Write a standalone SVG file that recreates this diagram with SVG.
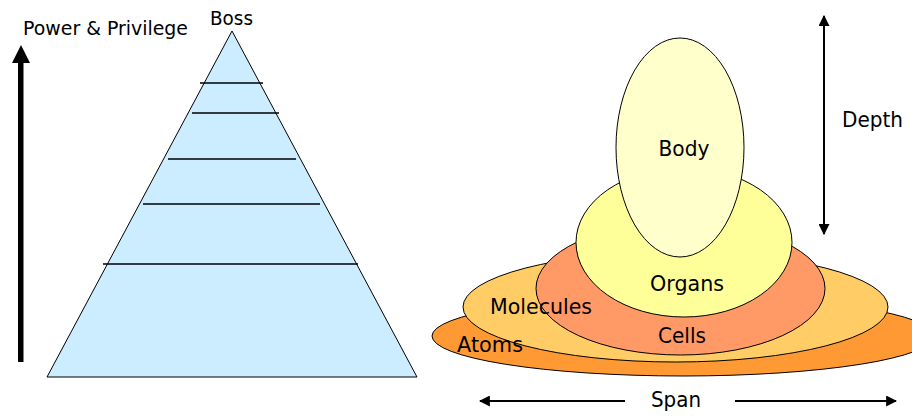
<svg xmlns="http://www.w3.org/2000/svg" width="912" height="417" viewBox="0 0 912 417">
  <style>
    text { font-family: "DejaVu Sans", "Liberation Sans", sans-serif; fill: #000; }
    .lbl { font-size: 22px; text-anchor: middle; }
    .side { font-size: 19.5px; }
    .tier { stroke: #000; stroke-width: 1.3; fill: none; }
    .shape { stroke: #000; stroke-width: 1; }
    .dim { stroke: #000; stroke-width: 2; fill: none; }
  </style>
  <defs>
    <marker id="head" viewBox="0 0 10 10" refX="9" refY="5" markerWidth="5.5" markerHeight="5.5" orient="auto-start-reverse" markerUnits="strokeWidth">
      <path d="M0,0 L10,5 L0,10 Z" fill="#000"/>
    </marker>
  </defs>

  <rect width="912" height="417" fill="#fff"/>

  <!-- hierarchy pyramid -->
  <g id="pyramid">
    <polygon class="shape" points="232,31 417,377 47,377" fill="#CCECFF"/>
    <line class="tier" x1="200" y1="83" x2="263" y2="83"/>
    <line class="tier" x1="192" y1="113" x2="279" y2="113"/>
    <line class="tier" x1="168" y1="159" x2="296" y2="159"/>
    <line class="tier" x1="143" y1="204" x2="320" y2="204"/>
    <line class="tier" x1="103" y1="264" x2="358" y2="264"/>
    <text class="side" x="210" y="25" textLength="43" lengthAdjust="spacingAndGlyphs">Boss</text>
  </g>

  <!-- power axis -->
  <g id="power-axis">
    <rect x="18" y="62" width="5.5" height="300" fill="#000"/>
    <polygon points="21,45 30,63 12,63" fill="#000"/>
    <text class="side" x="23" y="35" textLength="165" lengthAdjust="spacingAndGlyphs">Power &amp; Privilege</text>
  </g>

  <!-- nested holon ellipses -->
  <g id="atoms"><ellipse class="shape" cx="683" cy="336" rx="251" ry="40" fill="#FF9933"/></g>
  <g id="molecules"><ellipse class="shape" cx="675.5" cy="307" rx="212.5" ry="55" fill="#FFCC66"/></g>
  <g id="cells"><ellipse class="shape" cx="680.5" cy="288.5" rx="144.5" ry="66.5" fill="#FF9966"/></g>
  <g id="organs"><ellipse class="shape" cx="684" cy="242.5" rx="108" ry="74.5" fill="#FFFF99"/></g>
  <g id="body"><ellipse class="shape" cx="680" cy="147.5" rx="64" ry="109.5" fill="#FFFFCC"/></g>

  <g id="labels">
    <text class="lbl" x="490" y="352" textLength="66" lengthAdjust="spacingAndGlyphs">Atoms</text>
    <text class="lbl" x="541" y="314" textLength="102" lengthAdjust="spacingAndGlyphs">Molecules</text>
    <text class="lbl" x="682" y="343" textLength="48" lengthAdjust="spacingAndGlyphs">Cells</text>
    <text class="lbl" x="687" y="291" textLength="74" lengthAdjust="spacingAndGlyphs">Organs</text>
    <text class="lbl" x="684" y="156" textLength="51" lengthAdjust="spacingAndGlyphs">Body</text>
  </g>

  <!-- dimension arrows -->
  <g id="connectors">
    <line class="dim" x1="824" y1="16" x2="824" y2="234" marker-start="url(#head)" marker-end="url(#head)"/>
    <line class="dim" x1="625" y1="401" x2="480" y2="401" marker-end="url(#head)"/>
    <line class="dim" x1="735" y1="401" x2="896" y2="401" marker-end="url(#head)"/>
  </g>
  <text class="lbl" x="872.5" y="127" textLength="61" lengthAdjust="spacingAndGlyphs">Depth</text>
  <text class="lbl" x="676" y="407" textLength="50" lengthAdjust="spacingAndGlyphs">Span</text>
</svg>
